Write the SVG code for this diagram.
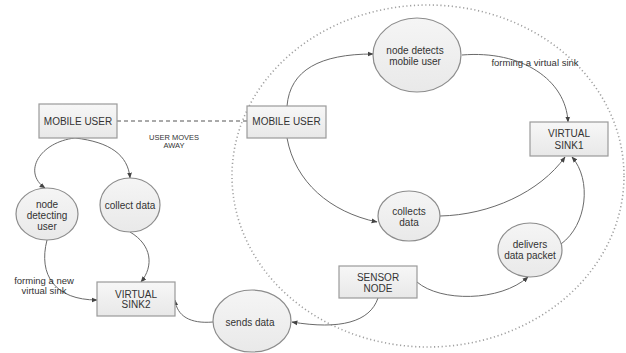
<svg xmlns="http://www.w3.org/2000/svg" width="626" height="353" viewBox="0 0 626 353">
  <defs>
    <marker id="arrow" viewBox="0 0 10 10" refX="9" refY="5" markerWidth="6" markerHeight="6" orient="auto" markerUnits="userSpaceOnUse">
      <path d="M0,1 L10,5 L0,9 Z" fill="#444"/>
    </marker>
    <linearGradient id="boxFill" x1="0" y1="0" x2="0" y2="1">
      <stop offset="0" stop-color="#f7f7f7"/>
      <stop offset="1" stop-color="#e8e8e8"/>
    </linearGradient>
    <linearGradient id="ellFill" x1="0" y1="0" x2="0" y2="1">
      <stop offset="0" stop-color="#f5f5f5"/>
      <stop offset="1" stop-color="#e9e9e9"/>
    </linearGradient>
  </defs>
  <style>
    .box { fill: url(#boxFill); stroke: #9a9a9a; stroke-width: 1.2; }
    .ell { fill: url(#ellFill); stroke: #8c8c8c; stroke-width: 1.2; }
    .t { font-family: "Liberation Sans", Arial, sans-serif; font-size: 10px; fill: #333; text-anchor: middle; }
    .lbl { font-family: "Liberation Sans", Arial, sans-serif; font-size: 9.5px; fill: #333; text-anchor: middle; }
    .small { font-family: "Liberation Sans", Arial, sans-serif; font-size: 7.5px; fill: #333; text-anchor: middle; }
    .edge { fill: none; stroke: #6a6a6a; stroke-width: 1; marker-end: url(#arrow); }
    .dash { fill: none; stroke: #555; stroke-width: 1; stroke-dasharray: 4 3; }
    .zone { fill: none; stroke: #a0a0a0; stroke-width: 1.6; stroke-dasharray: 1.2 2.6; }
  </style>

  <rect width="626" height="353" fill="#ffffff"/>

  <!-- coverage area of the sensor field -->
  <ellipse class="zone" cx="428" cy="176" rx="196" ry="171"/>

  <!-- connectors -->
  <g id="connectors">
    <path class="dash" d="M117,121 L247,121"/>
    <path class="edge" d="M75,138 C40,142 22,172 45,188"/>
    <path class="edge" d="M75,138 C110,142 128,155 130,178"/>
    <path class="edge" d="M47,240 C38,275 55,300 97,300"/>
    <path class="edge" d="M130,232 C152,245 154,266 141,282"/>
    <path class="edge" d="M213,322 C190,324 177,316 175,300"/>
    <path class="edge" d="M378,298 C370,322 340,330 292,322"/>
    <path class="edge" d="M417,282 C440,302 500,302 528,277"/>
    <path class="edge" d="M561,244 C587,225 592,180 572,157"/>
    <path class="edge" d="M440,216 C490,215 540,192 565,157"/>
    <path class="edge" d="M287,106 C290,70 320,54 373,54"/>
    <path class="edge" d="M287,138 C295,182 330,212 377,222"/>
    <path class="edge" d="M462,55 C522,50 566,80 568,122"/>
  </g>

  <!-- edge labels -->
  <text class="small" x="174" y="140">USER MOVES</text>
  <text class="small" x="174" y="148">AWAY</text>
  <text class="lbl" x="44" y="283.5">forming a new</text>
  <text class="lbl" x="44" y="293.5">virtual sink</text>
  <text class="lbl" x="535" y="66">forming a virtual sink</text>

  <g id="mobile-user-left">
    <rect class="box" x="39" y="104" width="78" height="34"/>
    <text class="t" x="78" y="125">MOBILE USER</text>
  </g>

  <g id="node-detecting-user">
    <ellipse class="ell" cx="47" cy="214" rx="31" ry="26"/>
    <text class="t" x="47" y="208">node</text>
    <text class="t" x="47" y="219">detecting</text>
    <text class="t" x="47" y="230">user</text>
  </g>

  <g id="collect-data">
    <ellipse class="ell" cx="130" cy="205" rx="30" ry="27"/>
    <text class="t" x="130" y="209">collect data</text>
  </g>

  <g id="virtual-sink2">
    <rect class="box" x="97" y="282" width="78" height="34"/>
    <text class="t" x="136" y="297.5">VIRTUAL</text>
    <text class="t" x="136" y="308">SINK2</text>
  </g>

  <g id="sends-data">
    <ellipse class="ell" cx="252" cy="321" rx="39" ry="31"/>
    <text class="t" x="250" y="325.5">sends data</text>
  </g>

  <g id="mobile-user-right">
    <rect class="box" x="247" y="106" width="79" height="32"/>
    <text class="t" x="286.5" y="125">MOBILE USER</text>
  </g>

  <g id="node-detects-mobile-user">
    <ellipse class="ell" cx="417" cy="55" rx="44" ry="37"/>
    <text class="t" x="415" y="53.5">node detects</text>
    <text class="t" x="415" y="65">mobile user</text>
  </g>

  <g id="virtual-sink1">
    <rect class="box" x="530" y="122" width="78" height="34"/>
    <text class="t" x="569" y="137">VIRTUAL</text>
    <text class="t" x="569" y="149">SINK1</text>
  </g>

  <g id="collects-data">
    <ellipse class="ell" cx="409" cy="216" rx="31" ry="25"/>
    <text class="t" x="409" y="214.5">collects</text>
    <text class="t" x="409" y="225.5">data</text>
  </g>

  <g id="delivers-data-packet">
    <ellipse class="ell" cx="530" cy="250" rx="32" ry="27"/>
    <text class="t" x="530" y="247.5">delivers</text>
    <text class="t" x="530" y="258.5">data packet</text>
  </g>

  <g id="sensor-node">
    <rect class="box" x="339" y="266" width="78" height="32"/>
    <text class="t" x="378" y="281">SENSOR</text>
    <text class="t" x="378" y="292">NODE</text>
  </g>
</svg>
